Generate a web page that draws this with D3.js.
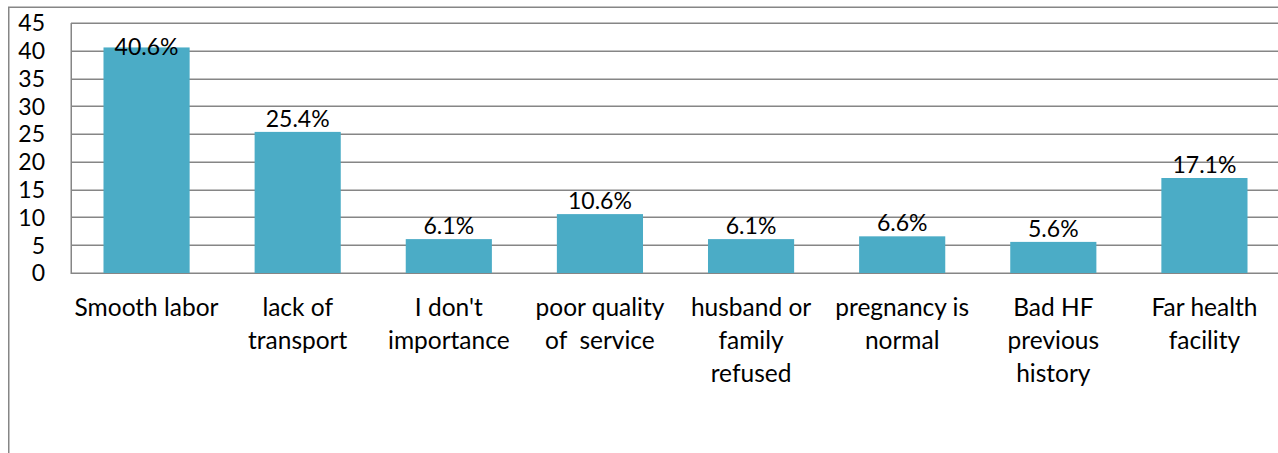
<!DOCTYPE html>
<meta charset="utf-8">
<style>
body { margin: 0; background: #fff; }
text { font-family: Lato, "Open Sans", sans-serif; fill: #000; }
.grid line { stroke: #868686; stroke-width: 1.5; }
.frame { fill: none; stroke: #868686; stroke-width: 1.5; }
.cat-label { font-size: 24.5px; white-space: pre; }
.val-label { font-size: 23px; }
.tick-label { font-size: 23px; }
</style>
<body>
<div id="chart"></div>
<script src="https://cdn.jsdelivr.net/npm/d3@7"></script>
<script>

// data
var categories = ["Smooth labor", "lack of transport", "I don't importance", "poor quality of service",
  "husband or family refused", "pregnancy is normal", "Bad HF previous history", "Far health facility"];
var categoryLines = [
  ["Smooth labor"],
  ["lack of", "transport"],
  ["I don't", "importance"],
  ["poor quality", "of  service"],
  ["husband or", "family", "refused"],
  ["pregnancy is", "normal"],
  ["Bad HF", "previous", "history"],
  ["Far health", "facility"]
];
var values = [40.6, 25.4, 6.1, 10.6, 6.1, 6.6, 5.6, 17.1];
var yTicks = [0, 5, 10, 15, 20, 25, 30, 35, 40, 45];

var width = 1278, height = 453;

var svg = d3.select("#chart").append("svg")
    .attr("width", width)
    .attr("height", height);

// outer frame (only left and top visible)
svg.append("path")
    .attr("class", "frame")
    .attr("d", "M8.75,453 V7.25 H1278");

var x = d3.scaleBand()
    .domain(categories)
    .range([71, 1280])
    .paddingInner(0.43)
    .paddingOuter(0.215);

var y = d3.scaleLinear()
    .domain([0, 45])
    .range([273, 23]);

// gridlines
svg.append("g")
    .attr("class", "grid")
  .selectAll("line")
  .data(yTicks)
  .enter().append("line")
    .attr("x1", 71)
    .attr("x2", width)
    .attr("y1", function(d) { return Math.round(y(d)) + 0.25; })
    .attr("y2", function(d) { return Math.round(y(d)) + 0.25; });

// left axis line
svg.append("line")
    .attr("x1", 71.25).attr("x2", 71.25)
    .attr("y1", y(45)).attr("y2", y(0) + 1)
    .attr("stroke", "#868686")
    .attr("stroke-width", 1.5);

// tick labels
svg.append("g")
  .selectAll("text")
  .data(yTicks)
  .enter().append("text")
    .attr("class", "tick-label")
    .attr("x", 45)
    .attr("y", function(d) { return y(d); })
    .attr("dy", "0.36em")
    .attr("text-anchor", "end")
    .text(function(d) { return d; });

// bars
svg.append("g")
  .selectAll("rect")
  .data(values)
  .enter().append("rect")
    .attr("x", function(d, i) { return x(categories[i]); })
    .attr("width", x.bandwidth())
    .attr("y", function(d) { return y(d); })
    .attr("height", function(d) { return y(0) - y(d); })
    .attr("fill", "#4bacc6");

// value labels
svg.append("g")
  .selectAll("text")
  .data(values)
  .enter().append("text")
    .attr("class", "val-label")
    .attr("x", function(d, i) { return x(categories[i]) + x.bandwidth() / 2; })
    .attr("y", function(d) { return Math.max(y(d) - 5, 55); })
    .attr("text-anchor", "middle")
    .text(function(d) { return d.toFixed(1) + "%"; });

// category labels
var cats = svg.append("g")
  .selectAll("text")
  .data(categoryLines)
  .enter().append("text")
    .attr("class", "cat-label")
    .attr("text-anchor", "middle")
    .attr("x", function(d, i) { return x(categories[i]) + x.bandwidth() / 2; });

cats.selectAll("tspan")
  .data(function(d) { return d; })
  .enter().append("tspan")
    .attr("x", function() { return d3.select(this.parentNode).attr("x"); })
    .attr("y", function(d, j) { return 316 + j * 33; })
    .text(function(d) { return d; });

</script>
</body>
